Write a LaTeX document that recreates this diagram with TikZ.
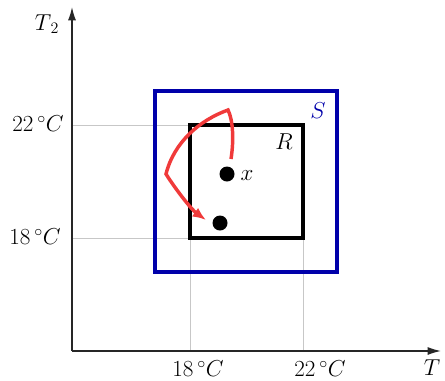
\documentclass[tikz,border=0pt]{standalone}
\usetikzlibrary{arrows.meta}
\definecolor{sblue}{RGB}{0,0,170}
\definecolor{ared}{RGB}{240,58,58}
\begin{document}
\begin{tikzpicture}[x=0.75pt,y=-0.75pt,
  axis/.style={line width=1pt,black!85,-{Latex[length=10pt,width=6pt]}},
  gridline/.style={line width=0.5pt,black!22},
  lbl/.style={inner sep=0pt,font=\fontsize{17}{20}\selectfont},
  dot/.style={circle,fill=black,minimum size=11.25pt,inner sep=0pt},
  redarrow/.style={ared,line width=2.6pt,line join=miter}]
\useasboundingbox (0,0) rectangle (445,380);
% coordinates
\coordinate (O) at (72,351);
\coordinate (Xend) at (441,351);
\coordinate (Yend) at (72,7);
\coordinate (g1) at (72,125);
\coordinate (g2) at (72,238);
\coordinate (g3) at (190,351);
\coordinate (g4) at (303,351);
\coordinate (Rtl) at (190,125);
\coordinate (Rbl) at (190,238);
\coordinate (Rbr) at (303,238);
% grid lines
\draw[gridline] (g1) -- (Rtl);
\draw[gridline] (g2) -- (Rbl);
\draw[gridline] (g3) -- (Rbl);
\draw[gridline] (g4) -- (Rbr);
% axes
\draw[axis] (O) -- (Xend);
\draw[axis] (O) -- (Yend);
% boxes
\draw[sblue,line width=2.5pt] (155,91) rectangle (337,272);
\draw[black,line width=2.5pt] (Rtl) rectangle (303,238);
% dots
\node[dot] (dx) at (227,174) {};
\node[dot] (dy) at (220,223) {};
% labels
\node[lbl] (lT2) at (47,24) {$T_{\,2}$};
\node[lbl,anchor=east] (l22y) at (64,124) {$22\,^{\circ}C$};
\node[lbl,anchor=east] (l18y) at (61,237) {$18\,^{\circ}C$};
\node[lbl] (l18x) at (198,369) {$18\,^{\circ}C$};
\node[lbl] (l22x) at (320,369) {$22\,^{\circ}C$};
\node[lbl] (lT) at (432,368) {$T$};
\node[lbl] (lx) at (247,176) {$x$};
\node[lbl] (lR) at (284,142) {$R$};
\node[lbl,text=sblue] (lS) at (318,111) {$S$};
% red arrow
\coordinate (a0) at (231,159);
\coordinate (a1) at (228,110);
\coordinate (a2) at (166,174);
\coordinate (a3) at (206,220);
\draw[redarrow,-{Latex[length=10pt,width=8pt]}] (a0) .. controls (234,140) and (233,120) .. (a1)
  .. controls (200,120) and (174,142) .. (a2)
  .. controls (176,190) and (192,210) .. (a3);
\end{tikzpicture}
\end{document}
